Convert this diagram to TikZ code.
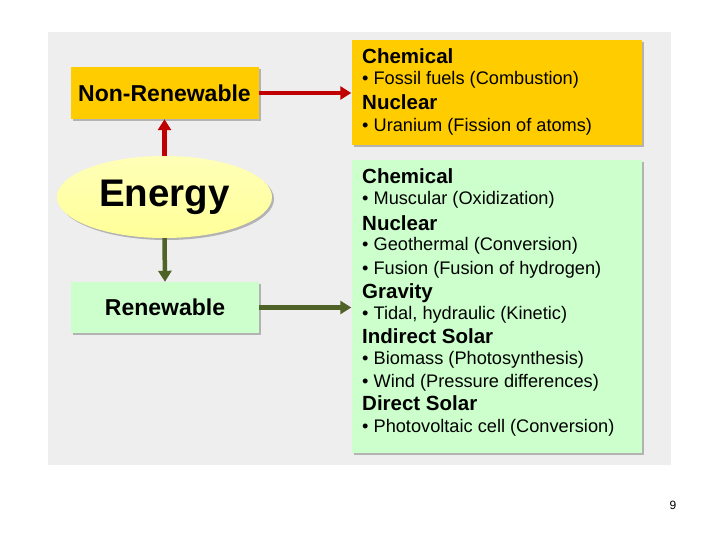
\documentclass[tikz,border=0pt]{standalone}
\usepackage{fontspec}
\setmainfont{Liberation Sans}
\usetikzlibrary{arrows.meta,shadows,shapes.geometric}
\definecolor{panel}{HTML}{EEEEEE}
\definecolor{nrorange}{HTML}{FFCC00}
\definecolor{rgreen}{HTML}{CCFFCC}
\definecolor{eyellow}{HTML}{FFFF99}
\definecolor{redarrow}{HTML}{C00000}
\definecolor{greenarrow}{HTML}{4F6228}
\tikzset{
  box/.style={draw=none, inner sep=0pt, drop shadow={shadow xshift=2pt, shadow yshift=-2pt, fill=black!45, opacity=.6}},
  redarr/.style={draw=redarrow, line width=4.5pt, -{Triangle[length=11pt,width=13pt]}},
  grnarr/.style={draw=greenarrow, line width=4.5pt, -{Triangle[length=11pt,width=13pt]}},
  hd/.style={inner sep=0pt, anchor=base west, font=\fontsize{20.5}{24}\selectfont\bfseries},
  bl/.style={inner sep=0pt, anchor=base west, font=\fontsize{18.2}{21}\selectfont},
}
\begin{document}
\begin{tikzpicture}[x=1pt,y=-1pt]
\useasboundingbox (0,0) rectangle (720,540);
\fill[white] (0,0) rectangle (720,540);
\fill[panel] (48,32) rectangle (671,465);
% left boxes
\node[box, fill=nrorange, minimum width=188pt, minimum height=52pt, font=\fontsize{23}{26}\selectfont\bfseries] (nr) at (164.5,93) {Non-Renewable};
\node[box, fill=rgreen, minimum width=188pt, minimum height=51pt, font=\fontsize{23}{26}\selectfont\bfseries] (rn) at (165,307.5) {Renewable};
\node[ellipse, draw=none, minimum width=215pt, minimum height=82pt, inner sep=0pt,
  left color=eyellow!70!white, right color=eyellow, shading angle=0,
  drop shadow={shadow xshift=2pt, shadow yshift=-2pt, fill=black!45, opacity=.6},
  font=\fontsize{38.5}{42}\selectfont\bfseries] (en) at (164.5,197) {Energy};
% right boxes
\node[box, fill=nrorange, minimum width=290pt, minimum height=105pt] (nrb) at (496.5,92.5) {};
\node[box, fill=rgreen, minimum width=290pt, minimum height=293pt] (rnb) at (496.5,306.5) {};
% texts in orange box
\node[hd] (t1) at (362,64) {Chemical};
\node[bl] (t2) at (362,85) {• Fossil fuels (Combustion)};
\node[hd] (t3) at (362,110) {Nuclear};
\node[bl] (t4) at (362,132) {• Uranium (Fission of atoms)};
% texts in green box
\node[hd] (g1) at (362,184) {Chemical};
\node[bl] (g2) at (362,205) {• Muscular (Oxidization)};
\node[hd] (g3) at (362,230) {Nuclear};
\node[bl] (g4) at (362,251) {• Geothermal (Conversion)};
\node[bl] (g5) at (362,274) {• Fusion (Fusion of hydrogen)};
\node[hd] (g6) at (362,298) {Gravity};
\node[bl] (g7) at (362,319) {• Tidal, hydraulic (Kinetic)};
\node[hd] (g8) at (362,343) {Indirect Solar};
\node[bl] (g9) at (362,364) {• Biomass (Photosynthesis)};
\node[bl] (g10) at (362,387) {• Wind (Pressure differences)};
\node[hd] (g11) at (362,410) {Direct Solar};
\node[bl] (g12) at (362,432) {• Photovoltaic cell (Conversion)};
% arrows
\draw[redarr] (en.north) -- (nr.south);
\draw[redarr] (nr.east) -- (nrb.west |- nr.east);
\draw[grnarr] (en.south) -- (rn.north);
\draw[grnarr] (rn.east) -- (rnb.west |- rn.east);
% page number
\node[font=\fontsize{12}{14}\selectfont, anchor=base] (pg) at (673,509) {9};
\end{tikzpicture}
\end{document}
